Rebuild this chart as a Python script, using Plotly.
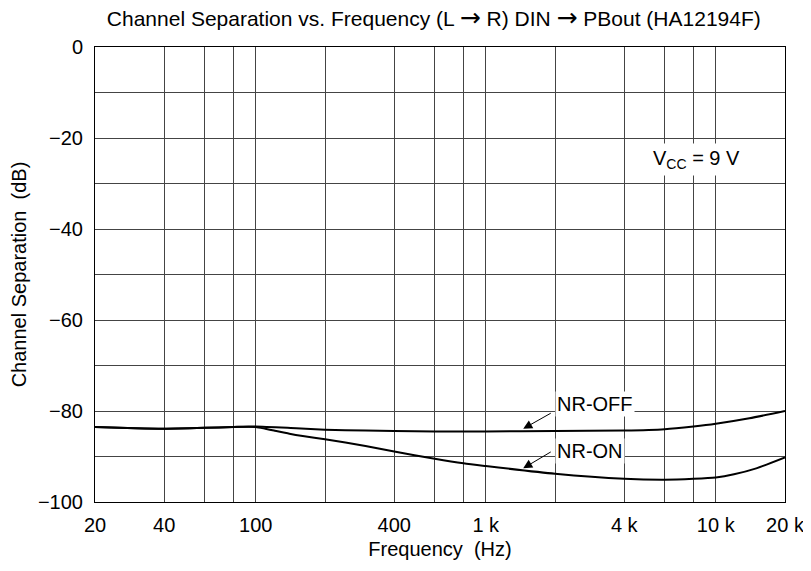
import plotly.graph_objects as go
import math

# Data
freq_off = [20, 30, 40, 60, 80, 100, 150, 200, 300, 400, 600, 1000, 2000, 4000, 6000, 8000, 10000, 14000, 20000]
sep_off = [-83.5, -83.8, -83.9, -83.7, -83.5, -83.4, -83.8, -84.1, -84.3, -84.4, -84.5, -84.5, -84.4, -84.3, -84.0, -83.4, -82.8, -81.6, -80.0]

freq_on = [20, 30, 40, 60, 80, 100, 110, 120, 140, 160, 200, 300, 400, 600, 800, 1000, 2000, 4000, 6000, 8000, 10000, 12000, 15000, 20000]
sep_on = [-83.5, -83.8, -83.9, -83.7, -83.5, -83.5, -83.9, -84.3, -85.0, -85.5, -86.2, -87.7, -88.9, -90.5, -91.5, -92.1, -93.8, -94.9, -95.1, -94.9, -94.6, -93.9, -92.6, -90.2]

x_grid = [20, 40, 60, 80, 100, 200, 400, 600, 800, 1000, 2000, 4000, 6000, 8000, 10000, 20000]
x_labels = ["20", "40", "", "", "100", "", "400", "", "", "1 k", "", "4 k", "", "", "10 k", "20 k"]
y_grid = [0, -10, -20, -30, -40, -50, -60, -70, -80, -90, -100]
y_labels = ["0", "", "−20", "", "−40", "", "−60", "", "−80", "", "−100"]

font = "Liberation Sans, Arial, sans-serif"
arr = '<span style="font-family:DejaVu Sans;font-size:25px">→</span>'

fig = go.Figure()
fig.add_trace(go.Scatter(x=freq_off, y=sep_off, mode="lines", line=dict(color="black", width=2, shape="spline", smoothing=0.6), showlegend=False))
fig.add_trace(go.Scatter(x=freq_on, y=sep_on, mode="lines", line=dict(color="black", width=2, shape="spline", smoothing=0.6), showlegend=False))

fig.update_layout(
    width=811, height=571,
    margin=dict(l=87, r=34, t=39, b=77, autoexpand=False),
    paper_bgcolor="white", plot_bgcolor="white",
    font=dict(family=font, size=20, color="black"),
    title=dict(text=f"Channel Separation vs. Frequency (L {arr} R) DIN {arr} PBout (HA12194F)",
               xref="paper", x=0.491, xanchor="center", y=0.982, yanchor="middle", font=dict(size=21)),
    xaxis=dict(type="log", range=[math.log10(20), math.log10(20000)],
               tickvals=x_grid, ticktext=x_labels, ticks="", ticklabelstandoff=5,
               showgrid=True, gridcolor="#444", gridwidth=1,
               showline=True, linecolor="black", linewidth=1, mirror=True,
               zeroline=False, automargin=False,
               title=dict(text="Frequency  (Hz)", standoff=6, font=dict(size=20)), tickfont=dict(size=20)),
    yaxis=dict(range=[-100, 0], tickvals=y_grid, ticktext=y_labels, ticks="", ticklabelstandoff=7,
               showgrid=True, gridcolor="#444", gridwidth=1,
               showline=True, linecolor="black", linewidth=1, mirror=True,
               zeroline=False, automargin=False,
               title=dict(text="Channel Separation  (dB)", standoff=6, font=dict(size=20)), tickfont=dict(size=20)),
)

# Labels with arrows
fig.add_annotation(x=math.log10(1455), y=-83.9, ax=math.log10(1946), ay=-80.3,
                   xref="x", yref="y", axref="x", ayref="y", text="",
                   showarrow=True, arrowhead=2, arrowsize=1.8, arrowwidth=1, arrowcolor="black")
fig.add_annotation(x=math.log10(1455), y=-92.6, ax=math.log10(1946), ay=-88.8,
                   xref="x", yref="y", axref="x", ayref="y", text="",
                   showarrow=True, arrowhead=2, arrowsize=1.8, arrowwidth=1, arrowcolor="black")
fig.add_annotation(x=math.log10(2974), y=-78.5, text="NR-OFF", showarrow=False,
                   bgcolor="white", borderpad=1, font=dict(size=20))
fig.add_annotation(x=math.log10(2830), y=-88.8, text="NR-ON", showarrow=False,
                   bgcolor="white", borderpad=1, font=dict(size=20))
fig.add_annotation(x=math.log10(8265), y=-24.8, text="V<sub>CC</sub> = 9 V", showarrow=False,
                   bgcolor="white", borderpad=3, font=dict(size=20))

fig.write_html("out.html")
